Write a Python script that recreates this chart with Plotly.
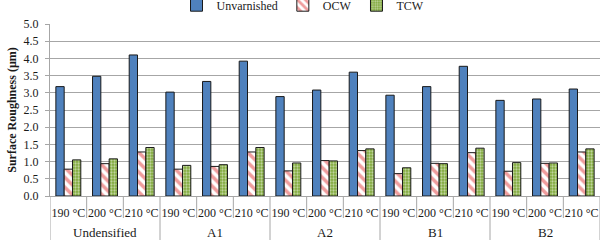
import plotly.graph_objects as go

groups = ["Undensified", "A1", "A2", "B1", "B2"]
temps = ["190 °C", "200 °C", "210 °C"]

unvarnished = [3.18, 3.48, 4.10, 3.02, 3.33, 3.92, 2.89, 3.08, 3.60, 2.93, 3.18, 3.77, 2.78, 2.82, 3.11]
ocw = [0.78, 0.94, 1.28, 0.78, 0.86, 1.28, 0.73, 1.03, 1.32, 0.65, 0.95, 1.26, 0.72, 0.95, 1.28]
tcw = [1.05, 1.08, 1.41, 0.89, 0.91, 1.41, 0.96, 1.02, 1.37, 0.82, 0.94, 1.39, 0.97, 0.96, 1.37]

n = len(groups) * len(temps)
xs = list(range(n))
ticktext = [t for g in groups for t in temps]

FONT = "Liberation Serif, Times New Roman, DejaVu Serif, serif"
GRID = "#a6a6a6"

fig = go.Figure()
fig.add_trace(go.Bar(x=xs, y=unvarnished, name="Unvarnished",
                     marker=dict(color="#4f81bd", line=dict(color="#1a1a1a", width=1))))
fig.add_trace(go.Bar(x=xs, y=ocw, name="OCW",
                     marker=dict(color="white", line=dict(color="#1a1a1a", width=1),
                                 pattern=dict(shape="\\", fgcolor="#e03a3a", bgcolor="white",
                                              size=7, solidity=0.5))))
fig.add_trace(go.Bar(x=xs, y=tcw, name="TCW",
                     marker=dict(color="white", line=dict(color="#1a1a1a", width=1),
                                 pattern=dict(shape=".", fgcolor="white", bgcolor="#7fa83a",
                                              size=3, solidity=0.45))))

plot_h = 240 - 24 - 44
short = -22 / plot_h
full = -44 / plot_h

shapes = []
ng = len(temps)
for i in range(n + 1):
    xv = i - 0.5
    is_group = (i % ng == 0)
    shapes.append(dict(type="line", xref="x", yref="paper", x0=xv, x1=xv,
                       y0=0, y1=full if is_group else short,
                       line=dict(color=GRID, width=1)))

annotations = []
for gi, g in enumerate(groups):
    annotations.append(dict(x=gi * ng + (ng - 1) / 2, y=-36 / plot_h, xref="x", yref="paper",
                            text=g, showarrow=False, yanchor="middle",
                            font=dict(family=FONT, size=13, color="#1a1a1a")))

fig.update_layout(
    width=602, height=240,
    margin=dict(l=50, r=2, t=24, b=44, autoexpand=False),
    paper_bgcolor="white", plot_bgcolor="white",
    barmode="group", bargap=0.32, bargroupgap=0,
    font=dict(family=FONT, size=12, color="#1a1a1a"),
    legend=dict(orientation="h", x=0.46, xanchor="center", y=1.025, yanchor="bottom",
                font=dict(family=FONT, size=12), itemwidth=30, tracegroupgap=0,
                traceorder="normal", bgcolor="rgba(0,0,0,0)"),
    shapes=shapes, annotations=annotations,
    showlegend=True,
)
fig.update_xaxes(range=[-0.5, n - 0.5], tickvals=xs, ticktext=ticktext,
                 showgrid=False, zeroline=False, ticks="", showline=True,
                 linecolor=GRID, linewidth=1, ticklabelstandoff=6, automargin=False,
                 tickfont=dict(family=FONT, size=12, color="#1a1a1a"))
fig.update_yaxes(range=[0, 5.0], dtick=0.5, tickformat=".1f", showgrid=True,
                 gridcolor=GRID, gridwidth=1, zeroline=False, showline=True, automargin=False,
                 linecolor=GRID, linewidth=1, ticks="outside", ticklen=4, tickcolor=GRID,
                 ticklabelstandoff=4,
                 tickfont=dict(family=FONT, size=12, color="#1a1a1a"),
                 title=dict(text="<b>Surface Roughness (µm)</b>", standoff=4,
                            font=dict(family=FONT, size=12, color="#1a1a1a")))

fig.write_html("out.html", config={"displayModeBar": False},
               post_script="document.body.style.margin='0';document.body.style.overflow='hidden';")
